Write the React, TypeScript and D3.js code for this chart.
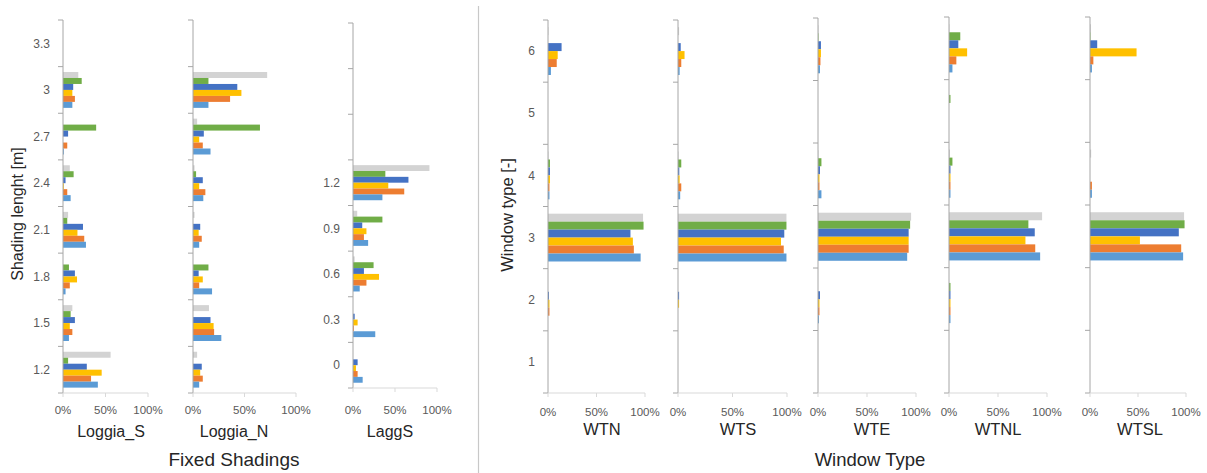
import React from "react";
import * as d3 from "d3";

// ---- series (top-to-bottom order inside each group) ----
const seriesKeys = ["s6", "s5", "s4", "s3", "s2", "s1"];
const seriesColors = ["#d3d3d3", "#70ad47", "#4472c4", "#ffc000", "#ed7d31", "#5b9bd5"];

// ---- categories ----
const shadingCategories = ["3.3", "3", "2.7", "2.4", "2.1", "1.8", "1.5", "1.2"];
const laggSCategories = ["1.2", "0.9", "0.6", "0.3", "0"];
const windowCategories = ["6", "5", "4", "3", "2", "1"];
const xTickValues = [0, 0.5, 1];
const xTickLabels = ["0%", "50%", "100%"];

// ---- values: rows = categories, columns = series (gray, green, blue, yellow, orange, light blue) ----
const loggiaSValues = [
  [0, 0, 0, 0, 0, 0],
  [0.18, 0.22, 0.12, 0.11, 0.14, 0.11],
  [0, 0.39, 0.06, 0, 0.05, 0.01],
  [0.08, 0.125, 0.03, 0.01, 0.05, 0.09],
  [0.06, 0.05, 0.235, 0.17, 0.25, 0.27],
  [0, 0.07, 0.14, 0.165, 0.08, 0.03],
  [0.11, 0.09, 0.14, 0.08, 0.11, 0.07],
  [0.56, 0.06, 0.28, 0.455, 0.33, 0.41],
];
const loggiaNValues = [
  [0, 0, 0, 0, 0, 0],
  [0.72, 0.15, 0.43, 0.47, 0.36, 0.15],
  [0.04, 0.65, 0.105, 0.06, 0.095, 0.17],
  [0.015, 0.03, 0.095, 0.06, 0.12, 0.1],
  [0.015, 0, 0.07, 0.055, 0.085, 0.06],
  [0, 0.15, 0.055, 0.095, 0.06, 0.185],
  [0.155, 0, 0.17, 0.2, 0.205, 0.275],
  [0.04, 0, 0.085, 0.07, 0.095, 0.06],
];
const laggSValues = [
  [0.91, 0.385, 0.66, 0.42, 0.61, 0.35],
  [0.05, 0.35, 0.11, 0.16, 0.13, 0.18],
  [0.02, 0.245, 0.13, 0.31, 0.16, 0.08],
  [0, 0, 0.02, 0.055, 0.01, 0.265],
  [0, 0, 0.055, 0.035, 0.055, 0.115],
];
const wtnValues = [
  [0.005, 0, 0.14, 0.1, 0.09, 0.03],
  [0, 0, 0, 0, 0, 0],
  [0.005, 0.02, 0.02, 0.02, 0.015, 0.015],
  [0.98, 0.985, 0.85, 0.875, 0.885, 0.955],
  [0, 0, 0.01, 0.015, 0.015, 0],
  [0, 0, 0, 0, 0, 0],
];
const wtsValues = [
  [0.01, 0, 0.025, 0.06, 0.03, 0.015],
  [0, 0, 0, 0, 0, 0],
  [0.005, 0.03, 0.012, 0.015, 0.03, 0.02],
  [0.995, 0.995, 0.975, 0.945, 0.97, 0.995],
  [0, 0, 0.01, 0.01, 0, 0],
  [0, 0, 0, 0, 0, 0],
];
const wteValues = [
  [0.005, 0.005, 0.03, 0.03, 0.025, 0.02],
  [0, 0, 0, 0, 0, 0],
  [0.005, 0.035, 0.02, 0.015, 0.015, 0.035],
  [0.95, 0.94, 0.925, 0.925, 0.925, 0.91],
  [0, 0, 0.02, 0.015, 0.015, 0.01],
  [0, 0, 0, 0, 0, 0],
];
const wtnlValues = [
  [0.005, 0.115, 0.095, 0.185, 0.075, 0.035],
  [0, 0.015, 0, 0, 0, 0],
  [0.01, 0.035, 0.015, 0.015, 0.015, 0.015],
  [0.95, 0.81, 0.875, 0.78, 0.88, 0.93],
  [0, 0.015, 0.015, 0.015, 0.015, 0.015],
  [0, 0, 0, 0, 0, 0],
];
const wtslValues = [
  [0.01, 0.005, 0.075, 0.485, 0.035, 0.02],
  [0, 0, 0, 0, 0, 0],
  [0.012, 0, 0, 0, 0.02, 0.02],
  [0.98, 0.985, 0.925, 0.52, 0.95, 0.97],
  [0, 0, 0, 0, 0, 0],
  [0, 0, 0, 0, 0, 0],
];

type PanelCfg = {
  title: string;
  categories: string[];
  values: number[][];
  emptyTop: number;
  showLabels: boolean;
  x0: number;
  x1: number;
  top: number;
  bottom: number;
  titleX: number;
  titleY: number;
  tickY: number;
  titleSize: number;
};

const panels: PanelCfg[] = [
  { title: "Loggia_S", categories: shadingCategories, values: loggiaSValues, emptyTop: 0, showLabels: true, x0: 63, x1: 148, top: 20, bottom: 393, titleX: 111, titleY: 437, tickY: 414, titleSize: 16 },
  { title: "Loggia_N", categories: shadingCategories, values: loggiaNValues, emptyTop: 0, showLabels: false, x0: 193, x1: 296, top: 20, bottom: 393, titleX: 234, titleY: 437, tickY: 414, titleSize: 16 },
  { title: "LaggS", categories: laggSCategories, values: laggSValues, emptyTop: 3, showLabels: true, x0: 353, x1: 437, top: 23, bottom: 388, titleX: 390, titleY: 437, tickY: 414, titleSize: 16 },
  { title: "WTN", categories: windowCategories, values: wtnValues, emptyTop: 0, showLabels: true, x0: 548, x1: 645, top: 20, bottom: 393, titleX: 602, titleY: 435, tickY: 416, titleSize: 16.5 },
  { title: "WTS", categories: windowCategories, values: wtsValues, emptyTop: 0, showLabels: false, x0: 678, x1: 787, top: 20, bottom: 393, titleX: 738, titleY: 435, tickY: 416, titleSize: 16.5 },
  { title: "WTE", categories: windowCategories, values: wteValues, emptyTop: 0, showLabels: false, x0: 818, x1: 916, top: 18, bottom: 393, titleX: 872, titleY: 435, tickY: 416, titleSize: 16.5 },
  { title: "WTNL", categories: windowCategories, values: wtnlValues, emptyTop: 0, showLabels: false, x0: 949, x1: 1047, top: 17, bottom: 393, titleX: 998, titleY: 435, tickY: 416, titleSize: 16.5 },
  { title: "WTSL", categories: windowCategories, values: wtslValues, emptyTop: 0, showLabels: false, x0: 1090, x1: 1186, top: 17, bottom: 393, titleX: 1140, titleY: 435, tickY: 416, titleSize: 16.5 },
];

const FONT = "'Liberation Sans', Arial, sans-serif";
const AXIS = "#a6a6a6";
const LIGHT_AXIS = "#d9d9d9";
const TICK_TXT = "#595959";
const TITLE_TXT = "#262626";

function Panel({ p }: { p: PanelCfg }) {
  const slots = p.categories.length + p.emptyTop;
  const y0 = d3.scaleBand<number>().domain(d3.range(slots)).range([p.top, p.bottom]).padding(0);
  const y1 = d3
    .scaleBand<string>()
    .domain(seriesKeys)
    .range([0, y0.bandwidth()])
    .paddingInner(0)
    .paddingOuter(0.9);
  const x = d3.scaleLinear().domain([0, 1]).range([p.x0, p.x1]);
  const boundaries = d3.range(slots + 1).map((i) => p.top + i * y0.step());

  return (
    <g>
      {/* bars */}
      {p.values.map((row, ci) => {
        const slot = ci + p.emptyTop;
        const gy = y0(slot) as number;
        return (
          <g key={ci}>
            {row.map((v, si) =>
              v > 0 ? (
                <rect
                  key={si}
                  x={x(0)}
                  y={gy + (y1(seriesKeys[si]) as number)}
                  width={Math.max(0, x(v) - x(0))}
                  height={y1.bandwidth()}
                  fill={seriesColors[si]}
                />
              ) : null
            )}
          </g>
        );
      })}
      {/* y axis */}
      <line x1={p.x0} x2={p.x0} y1={p.top} y2={p.bottom} stroke={AXIS} strokeWidth={1} />
      {boundaries.map((b, i) => (
        <line key={i} x1={p.x0 - 5} x2={p.x0} y1={b} y2={b} stroke={AXIS} strokeWidth={1} />
      ))}
      {/* category labels */}
      {p.showLabels &&
        p.categories.map((c, ci) => {
          const slot = ci + p.emptyTop;
          const cy = (y0(slot) as number) + y0.bandwidth() / 2;
          return (
            <text
              key={c}
              x={p.x0 - 13}
              y={cy}
              dy="0.35em"
              textAnchor="end"
              fontSize={12}
              fontFamily={FONT}
              fill={TICK_TXT}
            >
              {c}
            </text>
          );
        })}
      {/* x axis */}
      <line x1={p.x0} x2={p.x1} y1={p.bottom} y2={p.bottom} stroke={LIGHT_AXIS} strokeWidth={1} />
      {xTickValues.map((t, i) => (
        <g key={i}>
          <line x1={x(t)} x2={x(t)} y1={p.bottom} y2={p.bottom + 4} stroke={LIGHT_AXIS} strokeWidth={1} />
          <text
            x={x(t)}
            y={p.tickY}
            textAnchor="middle"
            fontSize={11.5}
            fontFamily={FONT}
            fill={TICK_TXT}
          >
            {xTickLabels[i]}
          </text>
        </g>
      ))}
      <text
        x={p.titleX}
        y={p.titleY}
        textAnchor="middle"
        fontSize={p.titleSize}
        fontFamily={FONT}
        fill={TITLE_TXT}
      >
        {p.title}
      </text>
    </g>
  );
}

export default function App() {
  return (
    <svg
      width={1207}
      height={473}
      viewBox="0 0 1207 473"
      style={{ position: "absolute", left: 0, top: 0, display: "block", background: "#ffffff" }}
    >
      <rect x={0} y={0} width={1207} height={473} fill="#ffffff" />
      {panels.map((p) => (
        <Panel key={p.title} p={p} />
      ))}
      <line x1={478.5} x2={478.5} y1={6} y2={473} stroke="#c8c8c8" strokeWidth={1.2} />
      <text
        transform="translate(23,214) rotate(-90)"
        textAnchor="middle"
        fontSize={16}
        fontFamily={FONT}
        fill={TITLE_TXT}
      >
        Shading lenght [m]
      </text>
      <text
        transform="translate(513,215) rotate(-90)"
        textAnchor="middle"
        fontSize={16.5}
        fontFamily={FONT}
        fill={TITLE_TXT}
      >
        Window type [-]
      </text>
      <text x={234} y={466} textAnchor="middle" fontSize={19} fontFamily={FONT} fill={TITLE_TXT}>
        Fixed Shadings
      </text>
      <text x={870} y={466} textAnchor="middle" fontSize={18.5} fontFamily={FONT} fill={TITLE_TXT}>
        Window Type
      </text>
    </svg>
  );
}
